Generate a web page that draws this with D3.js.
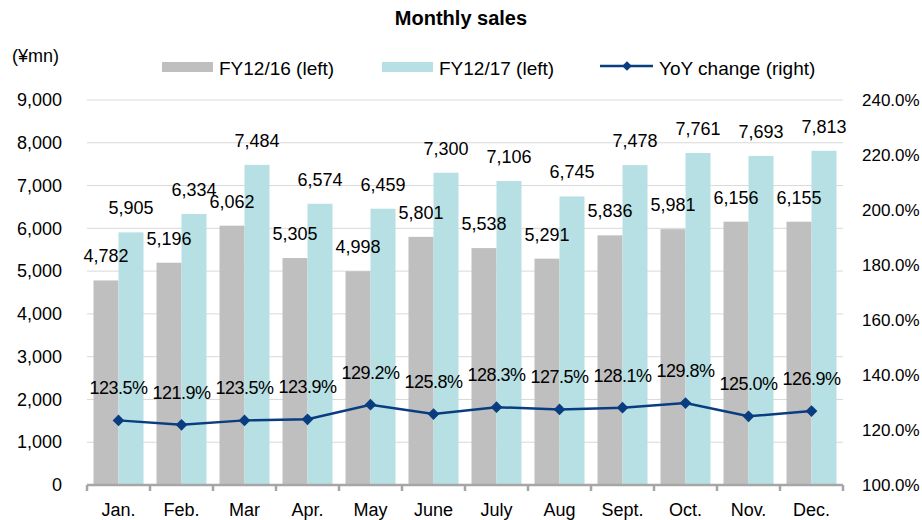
<!DOCTYPE html>
<html>
<head>
<meta charset="utf-8">
<script src="https://cdn.jsdelivr.net/npm/d3@7"></script>
<style>
  body { margin: 0; background: #fff; }
  svg text { font-family: "Liberation Sans", Arial, sans-serif; fill: #000; }
</style>
</head>
<body>
<div id="chart"></div>
<script>
const months = ["Jan.", "Feb.", "Mar", "Apr.", "May", "June", "July", "Aug", "Sept.", "Oct.", "Nov.", "Dec."];
const fy16 = [4782, 5196, 6062, 5305, 4998, 5801, 5538, 5291, 5836, 5981, 6156, 6155];
const fy17 = [5905, 6334, 7484, 6574, 6459, 7300, 7106, 6745, 7478, 7761, 7693, 7813];
const yoy = [123.5, 121.9, 123.5, 123.9, 129.2, 125.8, 128.3, 127.5, 128.1, 129.8, 125.0, 126.9];
const leftTicks = [0, 1000, 2000, 3000, 4000, 5000, 6000, 7000, 8000, 9000];
const rightTicks = [100, 120, 140, 160, 180, 200, 220, 240];
const seriesNames = ["FY12/16 (left)", "FY12/17 (left)", "YoY change (right)"];

const W = 922, H = 520;
const margin = {top: 100, right: 79, bottom: 35, left: 87};
const width = W - margin.left - margin.right,
      height = H - margin.top - margin.bottom;

const colors = {fy16: "#bfbfbf", fy17: "#b7e0e4", yoy: "#0a3d80"};

const svg = d3.select("#chart").append("svg")
    .attr("width", W).attr("height", H);

// title
svg.append("text")
  .attr("x", 461).attr("y", 25)
  .attr("text-anchor", "middle")
  .style("font-size", "20px").style("font-weight", "bold")
  .text("Monthly sales");

svg.append("text")
  .attr("x", 12).attr("y", 62)
  .style("font-size", "18px")
  .text("(¥mn)");

const g = svg.append("g").attr("transform", `translate(${margin.left},${margin.top})`);

const x = d3.scaleBand().domain(months).range([0, width]);
const x1 = d3.scaleBand().domain(["fy16", "fy17"]).range([0, x.bandwidth()]).paddingOuter(0.26);
const y = d3.scaleLinear().domain([0, 9000]).range([height, 0]);
const y2 = d3.scaleLinear().domain([100, 240]).range([height, 0]);

// gridlines
g.append("g").selectAll("line").data(leftTicks.filter(d => d > 0)).join("line")
  .attr("x1", 0).attr("x2", width)
  .attr("y1", d => y(d)).attr("y2", d => y(d))
  .attr("stroke", "#d9d9d9").attr("stroke-width", 1);

// left axis labels
const yAxis = g.append("g")
  .call(d3.axisLeft(y).tickValues(leftTicks).tickFormat(d3.format(",")).tickSize(0).tickPadding(25));
yAxis.select(".domain").remove();
yAxis.selectAll("text").style("font-size", "18px").attr("font-family", null);

// right axis labels
const yAxis2 = g.append("g").attr("transform", `translate(${width},0)`)
  .call(d3.axisRight(y2).tickValues(rightTicks).tickFormat(d => d.toFixed(1) + "%").tickSize(0).tickPadding(19));
yAxis2.select(".domain").remove();
yAxis2.selectAll("text").style("font-size", "17px").attr("font-family", null);

// bars
const rows = months.map((m, i) => ({m, fy16: fy16[i], fy17: fy17[i], yoy: yoy[i]}));
const groups = g.append("g").selectAll("g").data(rows).join("g")
  .attr("transform", d => `translate(${x(d.m)},0)`);

["fy16", "fy17"].forEach(k => {
  groups.append("rect")
    .attr("x", x1(k)).attr("width", x1.bandwidth())
    .attr("y", d => y(d[k])).attr("height", d => height - y(d[k]))
    .attr("fill", colors[k]);
});
["fy16", "fy17"].forEach(k => {
  groups.append("text")
    .attr("x", x1(k) + x1.bandwidth() / 2)
    .attr("y", d => y(d[k]) - 18)
    .attr("text-anchor", "middle")
    .style("font-size", "18px")
    .text(d => d3.format(",")(d[k]));
});

// x axis
const xAxis = g.append("g").attr("transform", `translate(0,${height})`);
xAxis.append("line").attr("x1", 0).attr("x2", width).attr("stroke", "#a6a6a6").attr("stroke-width", 2.5);
xAxis.selectAll(".tk").data(d3.range(months.length + 1)).join("line")
  .attr("class", "tk")
  .attr("x1", i => i * x.step()).attr("x2", i => i * x.step())
  .attr("y1", 0).attr("y2", 6)
  .attr("stroke", "#a6a6a6").attr("stroke-width", 2.5);
xAxis.selectAll(".lbl").data(months).join("text")
  .attr("class", "lbl")
  .attr("x", d => x(d) + x.bandwidth() / 2).attr("y", 31)
  .attr("text-anchor", "middle")
  .style("font-size", "18px")
  .text(d => d);

// yoy line
const cx = d => x(d.m) + x.bandwidth() / 2;
g.append("path").datum(rows)
  .attr("fill", "none").attr("stroke", colors.yoy).attr("stroke-width", 2.5)
  .attr("d", d3.line().x(cx).y(d => y2(d.yoy)));

const diamond = d3.symbol().type(d3.symbolDiamond2).size(88);
g.append("g").selectAll("path").data(rows).join("path")
  .attr("transform", d => `translate(${cx(d)},${y2(d.yoy)})`)
  .attr("d", diamond).attr("fill", colors.yoy);

g.append("g").selectAll("text").data(rows).join("text")
  .attr("x", cx).attr("y", d => y2(d.yoy) - 26)
  .attr("text-anchor", "middle")
  .style("font-size", "18px").style("letter-spacing", "-0.5px")
  .text(d => d.yoy.toFixed(1) + "%");

// legend
const leg = svg.append("g");
leg.append("rect").attr("x", 162).attr("y", 62).attr("width", 51).attr("height", 10).attr("fill", colors.fy16);
leg.append("text").attr("x", 219).attr("y", 75).style("font-size", "19px").text(seriesNames[0]);
leg.append("rect").attr("x", 382).attr("y", 62).attr("width", 51).attr("height", 10).attr("fill", colors.fy17);
leg.append("text").attr("x", 439).attr("y", 75).style("font-size", "19px").text(seriesNames[1]);
leg.append("line").attr("x1", 600).attr("x2", 653).attr("y1", 66).attr("y2", 66)
  .attr("stroke", colors.yoy).attr("stroke-width", 2.5);
leg.append("path").attr("transform", "translate(627,66)").attr("d", d3.symbol().type(d3.symbolDiamond2).size(60)).attr("fill", colors.yoy);
leg.append("text").attr("x", 659).attr("y", 75).style("font-size", "19px").text(seriesNames[2]);
</script>
</body>
</html>
